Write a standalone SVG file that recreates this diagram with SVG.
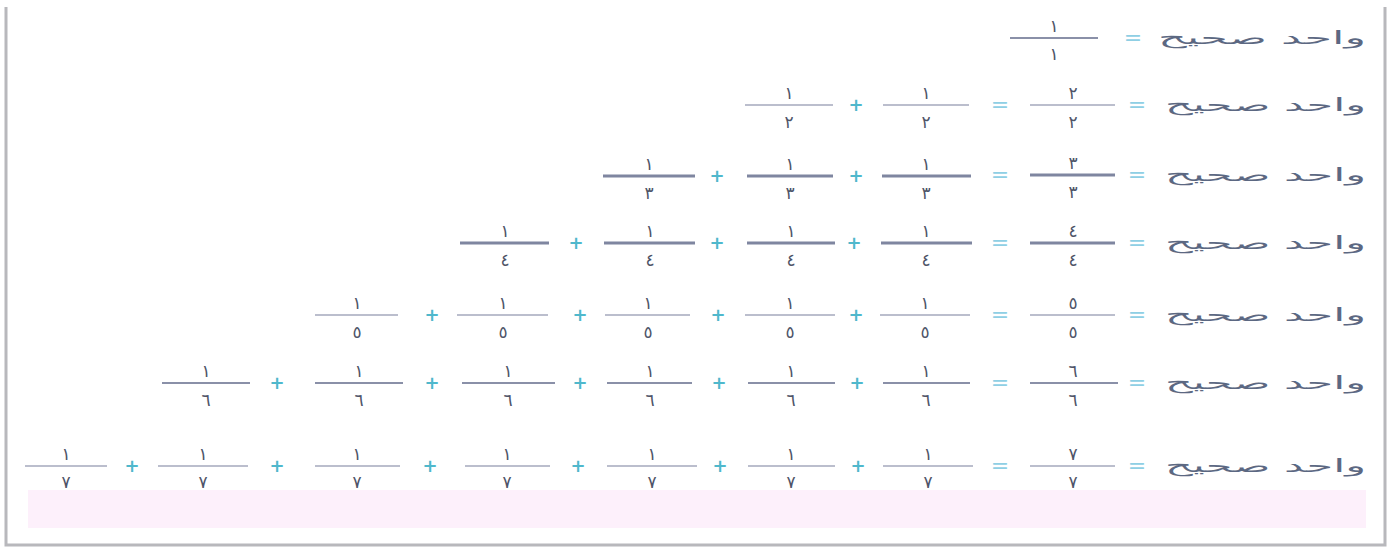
<svg xmlns="http://www.w3.org/2000/svg" width="1391" height="548" viewBox="0 0 1391 548">
<style>
.num{font-family:"DejaVu Sans",sans-serif;font-size:17px;fill:#4e5468;text-anchor:middle}
.bar{stroke:#8a90a8;stroke-width:2}
.thin{stroke:#a4a9bd;stroke-width:1.5}
.thick{stroke:#7f86a0;stroke-width:3}
.op{font-family:"DejaVu Sans",sans-serif;font-size:18px;fill:#4fb8cc;text-anchor:middle;font-weight:bold}
.eq{font-family:"DejaVu Sans",sans-serif;font-size:22px;fill:#8fcfe4;text-anchor:middle}
.lbl{font-family:"DejaVu Sans",sans-serif;font-size:18px;fill:#5c6882;text-anchor:start}
</style>
<rect width="1391" height="548" fill="#ffffff"/>
<path d="M6 7V545H1385V7" fill="none" stroke="#b8b8bc" stroke-width="3"/>
<rect x="28" y="490" width="1338" height="38" fill="#fdf0fb"/>
<g id="connectors"/>

<g id="row1">
<text class="lbl" x="1158" y="44" textLength="208" lengthAdjust="spacingAndGlyphs">واحد صحيح</text>
<text class="eq" x="1133" y="45">=</text>
<g id="r1f1"><line class="bar" x1="1010" y1="38" x2="1098" y2="38"/><text class="num" x="1054" y="32" font-size="12">١</text><text class="num" x="1054" y="60">١</text></g>
</g>

<g id="row2">
<text class="lbl" x="1165" y="111" textLength="201" lengthAdjust="spacingAndGlyphs">واحد صحيح</text>
<text class="eq" x="1137" y="112">=</text>
<g id="r2f0"><line class="thin" x1="1030" y1="105" x2="1115" y2="105"/><text class="num" x="1073" y="99">٢</text><text class="num" x="1073" y="128">٢</text></g>
<text class="eq" x="1000" y="112">=</text>
<g id="r2f1"><line class="thin" x1="883" y1="105" x2="969" y2="105"/><text class="num" x="926" y="99">١</text><text class="num" x="926" y="128">٢</text></g>
<text class="op" x="856" y="111">+</text>
<g id="r2f2"><line class="thin" x1="745" y1="105" x2="833" y2="105"/><text class="num" x="789" y="99">١</text><text class="num" x="789" y="128">٢</text></g>
</g>

<g id="row3">
<text class="lbl" x="1165" y="181" textLength="201" lengthAdjust="spacingAndGlyphs">واحد صحيح</text>
<text class="eq" x="1137" y="182">=</text>
<g id="r3f0"><line class="thick" x1="1030" y1="175" x2="1115" y2="175"/><text class="num" x="1073" y="169">٣</text><text class="num" x="1073" y="198">٣</text></g>
<text class="eq" x="1000" y="182">=</text>
<g id="r3f1"><line class="thick" x1="882" y1="176" x2="971" y2="176"/><text class="num" x="926" y="170">١</text><text class="num" x="926" y="199">٣</text></g>
<text class="op" x="856" y="182">+</text>
<g id="r3f2"><line class="thick" x1="747" y1="176" x2="833" y2="176"/><text class="num" x="790" y="170">١</text><text class="num" x="790" y="199">٣</text></g>
<text class="op" x="717" y="182">+</text>
<g id="r3f3"><line class="thick" x1="603" y1="176" x2="695" y2="176"/><text class="num" x="649" y="170">١</text><text class="num" x="649" y="199">٣</text></g>
</g>

<g id="row4">
<text class="lbl" x="1165" y="249" textLength="201" lengthAdjust="spacingAndGlyphs">واحد صحيح</text>
<text class="eq" x="1137" y="250">=</text>
<g id="r4f0"><line class="thick" x1="1030" y1="243" x2="1115" y2="243"/><text class="num" x="1073" y="237">٤</text><text class="num" x="1073" y="266">٤</text></g>
<text class="eq" x="1000" y="250">=</text>
<g id="r4f1"><line class="thick" x1="881" y1="243" x2="972" y2="243"/><text class="num" x="926" y="237">١</text><text class="num" x="926" y="266">٤</text></g>
<text class="op" x="854" y="249">+</text>
<g id="r4f2"><line class="thick" x1="747" y1="243" x2="835" y2="243"/><text class="num" x="791" y="237">١</text><text class="num" x="791" y="266">٤</text></g>
<text class="op" x="717" y="249">+</text>
<g id="r4f3"><line class="thick" x1="604" y1="243" x2="695" y2="243"/><text class="num" x="650" y="237">١</text><text class="num" x="650" y="266">٤</text></g>
<text class="op" x="576" y="249">+</text>
<g id="r4f4"><line class="thick" x1="460" y1="243" x2="549" y2="243"/><text class="num" x="505" y="237">١</text><text class="num" x="505" y="266">٤</text></g>
</g>

<g id="row5">
<text class="lbl" x="1165" y="321" textLength="201" lengthAdjust="spacingAndGlyphs">واحد صحيح</text>
<text class="eq" x="1137" y="322">=</text>
<g id="r5f0"><line class="thin" x1="1030" y1="315" x2="1115" y2="315"/><text class="num" x="1073" y="309">٥</text><text class="num" x="1073" y="338">٥</text></g>
<text class="eq" x="1000" y="322">=</text>
<g id="r5f1"><line class="thin" x1="880" y1="315" x2="970" y2="315"/><text class="num" x="925" y="309">١</text><text class="num" x="925" y="338">٥</text></g>
<text class="op" x="856" y="321">+</text>
<g id="r5f2"><line class="thin" x1="745" y1="315" x2="835" y2="315"/><text class="num" x="790" y="309">١</text><text class="num" x="790" y="338">٥</text></g>
<text class="op" x="718" y="321">+</text>
<g id="r5f3"><line class="thin" x1="605" y1="315" x2="690" y2="315"/><text class="num" x="648" y="309">١</text><text class="num" x="648" y="338">٥</text></g>
<text class="op" x="580" y="321">+</text>
<g id="r5f4"><line class="thin" x1="457" y1="315" x2="548" y2="315"/><text class="num" x="503" y="309">١</text><text class="num" x="503" y="338">٥</text></g>
<text class="op" x="432" y="321">+</text>
<g id="r5f5"><line class="thin" x1="315" y1="315" x2="398" y2="315"/><text class="num" x="357" y="309">١</text><text class="num" x="357" y="338">٥</text></g>
</g>

<g id="row6">
<text class="lbl" x="1165" y="389" textLength="201" lengthAdjust="spacingAndGlyphs">واحد صحيح</text>
<text class="eq" x="1137" y="390">=</text>
<g id="r6f0"><line class="bar" x1="1030" y1="383" x2="1118" y2="383"/><text class="num" x="1073" y="377">٦</text><text class="num" x="1073" y="406">٦</text></g>
<text class="eq" x="1000" y="390">=</text>
<g id="r6f1"><line class="bar" x1="883" y1="383" x2="970" y2="383"/><text class="num" x="926" y="377">١</text><text class="num" x="926" y="406">٦</text></g>
<text class="op" x="857" y="389">+</text>
<g id="r6f2"><line class="bar" x1="748" y1="383" x2="835" y2="383"/><text class="num" x="791" y="377">١</text><text class="num" x="791" y="406">٦</text></g>
<text class="op" x="719" y="389">+</text>
<g id="r6f3"><line class="bar" x1="607" y1="383" x2="692" y2="383"/><text class="num" x="650" y="377">١</text><text class="num" x="650" y="406">٦</text></g>
<text class="op" x="580" y="389">+</text>
<g id="r6f4"><line class="bar" x1="462" y1="383" x2="555" y2="383"/><text class="num" x="508" y="377">١</text><text class="num" x="508" y="406">٦</text></g>
<text class="op" x="432" y="389">+</text>
<g id="r6f5"><line class="bar" x1="315" y1="383" x2="403" y2="383"/><text class="num" x="359" y="377">١</text><text class="num" x="359" y="406">٦</text></g>
<text class="op" x="277" y="389">+</text>
<g id="r6f6"><line class="bar" x1="162" y1="383" x2="250" y2="383"/><text class="num" x="206" y="377">١</text><text class="num" x="206" y="406">٦</text></g>
</g>

<g id="row7">
<text class="lbl" x="1165" y="472" textLength="201" lengthAdjust="spacingAndGlyphs">واحد صحيح</text>
<text class="eq" x="1137" y="473">=</text>
<g id="r7f0"><line class="thin" x1="1030" y1="466" x2="1115" y2="466"/><text class="num" x="1073" y="460">٧</text><text class="num" x="1073" y="488">٧</text></g>
<text class="eq" x="1000" y="473">=</text>
<g id="r7f1"><line class="thin" x1="883" y1="466" x2="973" y2="466"/><text class="num" x="928" y="460">١</text><text class="num" x="928" y="488">٧</text></g>
<text class="op" x="858" y="472">+</text>
<g id="r7f2"><line class="thin" x1="748" y1="466" x2="835" y2="466"/><text class="num" x="791" y="460">١</text><text class="num" x="791" y="488">٧</text></g>
<text class="op" x="720" y="472">+</text>
<g id="r7f3"><line class="thin" x1="607" y1="466" x2="697" y2="466"/><text class="num" x="652" y="460">١</text><text class="num" x="652" y="488">٧</text></g>
<text class="op" x="578" y="472">+</text>
<g id="r7f4"><line class="thin" x1="465" y1="466" x2="550" y2="466"/><text class="num" x="507" y="460">١</text><text class="num" x="507" y="488">٧</text></g>
<text class="op" x="430" y="472">+</text>
<g id="r7f5"><line class="thin" x1="315" y1="466" x2="400" y2="466"/><text class="num" x="357" y="460">١</text><text class="num" x="357" y="488">٧</text></g>
<text class="op" x="277" y="472">+</text>
<g id="r7f6"><line class="thin" x1="158" y1="466" x2="248" y2="466"/><text class="num" x="203" y="460">١</text><text class="num" x="203" y="488">٧</text></g>
<text class="op" x="132" y="472">+</text>
<g id="r7f7"><line class="thin" x1="25" y1="466" x2="107" y2="466"/><text class="num" x="66" y="460">١</text><text class="num" x="66" y="488">٧</text></g>
</g>
</svg>
